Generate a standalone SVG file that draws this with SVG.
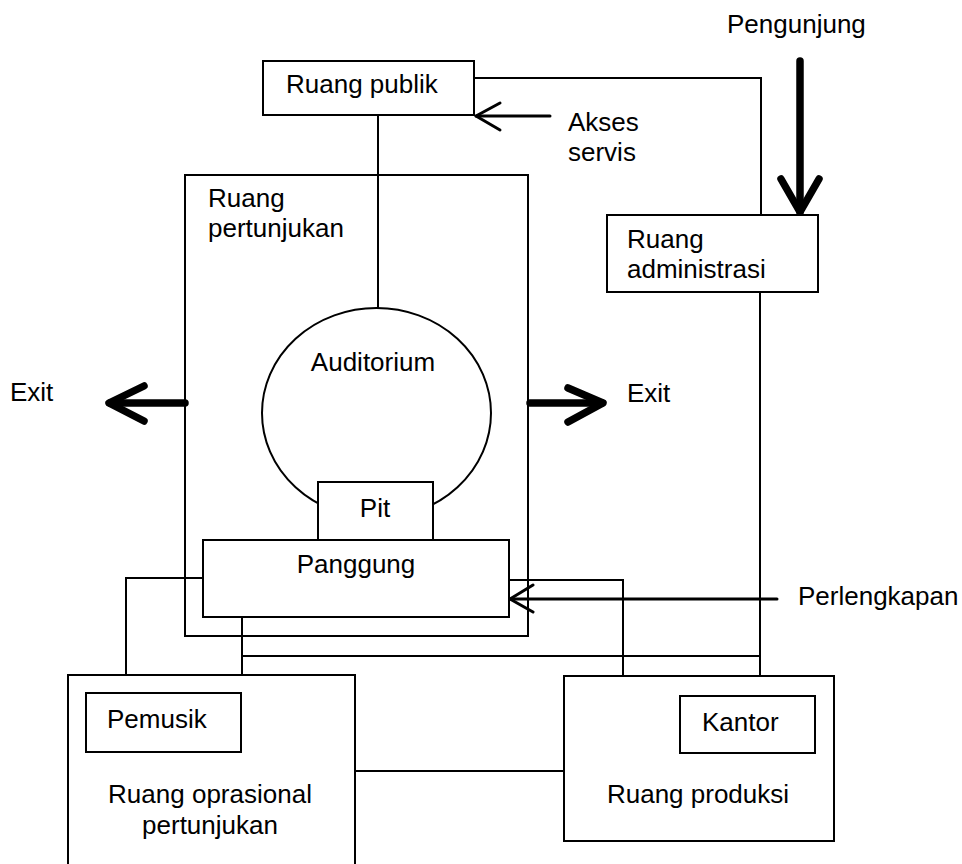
<svg xmlns="http://www.w3.org/2000/svg" width="962" height="864" viewBox="0 0 962 864">
  <style>
    .box { fill: #fff; stroke: #000; stroke-width: 2; }
    .frame { fill: none; stroke: #000; stroke-width: 2; }
    .wire { fill: none; stroke: #000; stroke-width: 2; }
    .thin-arrow { fill: none; stroke: #000; stroke-width: 3; stroke-linecap: round; stroke-linejoin: round; }
    .bold-arrow { fill: none; stroke: #000; stroke-width: 7.5; stroke-linecap: round; stroke-linejoin: round; }
    text { font-family: "Liberation Sans", Arial, sans-serif; font-size: 26px; fill: #000; }
    .mid { text-anchor: middle; }
  </style>
  <rect width="962" height="864" fill="#fff"/>

  <!-- connectors -->
  <g id="connectors">
    <!-- public hall to administration -->
    <polyline class="wire" points="474,78 761,78 761,215"/>
    <!-- public hall down to auditorium -->
    <line class="wire" x1="378" y1="115" x2="378" y2="308"/>
    <!-- administration down to office -->
    <line class="wire" x1="760" y1="292" x2="760" y2="696"/>
    <!-- stage to musicians -->
    <polyline class="wire" points="203,578 126,578 126,693"/>
    <!-- stage down to operations, branch across to office line -->
    <line class="wire" x1="242" y1="617" x2="242" y2="675"/>
    <line class="wire" x1="242" y1="656" x2="760" y2="656"/>
    <!-- stage to production -->
    <polyline class="wire" points="509,580 623,580 623,676"/>
    <!-- operations to production -->
    <line class="wire" x1="355" y1="771" x2="564" y2="771"/>

    <!-- service access arrow -->
    <line class="thin-arrow" x1="550" y1="116" x2="476" y2="116"/>
    <polyline class="thin-arrow" points="500,103 476,116 500,130"/>
    <!-- equipment arrow -->
    <line class="thin-arrow" x1="777" y1="599" x2="510" y2="599"/>
    <polyline class="thin-arrow" points="533,585 510,599 533,612"/>
    <!-- visitor arrow -->
    <line class="bold-arrow" x1="800" y1="61" x2="800" y2="212"/>
    <polyline class="bold-arrow" points="781,179 800,212 819,179"/>
    <!-- exits -->
    <line class="bold-arrow" x1="185" y1="403" x2="110" y2="403"/>
    <polyline class="bold-arrow" points="144,386 109,403 144,421"/>
    <line class="bold-arrow" x1="530" y1="403" x2="602" y2="403"/>
    <polyline class="bold-arrow" points="568,388 603,403 568,422"/>
  </g>

  <g id="ruang-publik">
    <rect class="box" x="263" y="61" width="211" height="54"/>
    <text x="286" y="93">Ruang publik</text>
  </g>

  <g id="ruang-pertunjukan">
    <rect class="frame" x="185" y="175" width="343" height="461"/>
    <text x="208" y="207">Ruang</text>
    <text x="208" y="237">pertunjukan</text>
  </g>

  <g id="auditorium">
    <ellipse class="wire" cx="376.5" cy="413" rx="114.5" ry="105"/>
    <text class="mid" x="373" y="371">Auditorium</text>
  </g>

  <g id="pit">
    <rect class="box" x="318" y="482" width="115" height="58"/>
    <text class="mid" x="375" y="517">Pit</text>
  </g>

  <g id="panggung">
    <rect class="box" x="203" y="540" width="306" height="77"/>
    <text class="mid" x="356" y="573">Panggung</text>
  </g>

  <g id="ruang-administrasi">
    <rect class="box" x="607" y="215" width="211" height="77"/>
    <text x="627" y="248">Ruang</text>
    <text x="627" y="278">administrasi</text>
  </g>

  <g id="ruang-oprasional">
    <rect class="box" x="68" y="675" width="287" height="200"/>
    <text class="mid" x="210" y="803">Ruang oprasional</text>
    <text class="mid" x="210" y="834">pertunjukan</text>
  </g>

  <g id="pemusik">
    <rect class="box" x="86" y="693" width="155" height="59"/>
    <text x="107" y="728">Pemusik</text>
  </g>

  <g id="ruang-produksi">
    <rect class="box" x="564" y="676" width="270" height="165"/>
    <text class="mid" x="698" y="803">Ruang produksi</text>
  </g>

  <g id="kantor">
    <rect class="box" x="680" y="696" width="135" height="57"/>
    <text x="702" y="731">Kantor</text>
  </g>

  <!-- free labels -->
  <g id="labels">
    <text x="727" y="33">Pengunjung</text>
    <text x="568" y="131">Akses</text>
    <text x="568" y="161">servis</text>
    <text x="798" y="605">Perlengkapan</text>
    <text x="10" y="401">Exit</text>
    <text x="627" y="402">Exit</text>
  </g>
</svg>
